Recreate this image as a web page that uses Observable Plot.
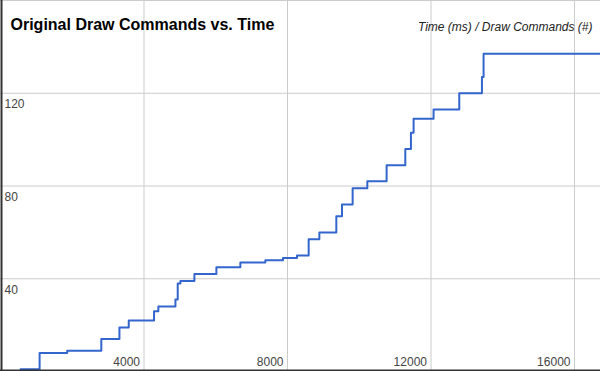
<!DOCTYPE html>
<html>
<head>
<meta charset="utf-8">
<script src="https://cdn.jsdelivr.net/npm/d3@7"></script>
<script src="https://cdn.jsdelivr.net/npm/@observablehq/plot@0.6"></script>
<style>
  html, body { margin: 0; padding: 0; background: #fff; }
  svg { display: block; }
</style>
</head>
<body>
<div id="chart"></div>
<script>
const titleText = "Original Draw Commands vs. Time";
const subtitleText = "Time (ms) / Draw Commands (#)";

const timesMs = [350, 560, 1090, 1860, 2810, 3315, 3575, 4280, 4400, 4876, 4940, 5015, 5405, 6018, 6686, 7383, 7875, 8265, 8590, 8888, 9361, 9519, 9816, 10225, 10763, 11284, 11441, 11515, 12072, 12788, 13420, 13466, 16725];
const drawCommands = [0, 1, 8, 9, 14, 19, 22, 26, 28, 31, 38, 39, 42, 45, 47, 48, 49, 50, 57, 60, 67, 72, 79, 82, 89, 96, 103, 109, 113, 120, 127, 137, 137];

const xTicks = [4000, 8000, 12000, 16000];
const yTicks = [40, 80, 120];
const yGrid = [40, 80, 120, 160];

const data = timesMs.map((t, i) => ({t, n: drawCommands[i]}));

const font = "'Liberation Sans', Arial, sans-serif";

const chart = Plot.plot({
  width: 600,
  height: 371,
  margin: 0,
  style: {fontFamily: font, fontSize: "12px", color: "#444", background: "#fff"},
  x: {domain: [0, 16725]},
  y: {domain: [0, 160]},
  marks: [
    Plot.gridX(xTicks, {stroke: "#ccc", strokeOpacity: 1}),
    Plot.gridY(yGrid, {stroke: "#ccc", strokeOpacity: 1}),
    Plot.axisX({ticks: xTicks, anchor: "bottom", tickSize: 0, tickPadding: 0, textAnchor: "end", dx: -4, dy: -14, fill: "#444", tickFormat: d => String(d), label: null, fontSize: 12}),
    Plot.axisY({ticks: yTicks, anchor: "left", tickSize: 0, tickPadding: 0, textAnchor: "start", dx: 4, dy: 11, fill: "#444", tickFormat: d => String(d), label: null, fontSize: 12}),
    Plot.line(data, {x: "t", y: "n", curve: "step-after", stroke: "#3366cc", strokeWidth: 2}),
    Plot.ruleX([0], {stroke: "#333", strokeWidth: 2, dx: 1}),
    Plot.ruleY([0], {stroke: "#333", strokeWidth: 2, dy: -1}),
    Plot.text([titleText], {frameAnchor: "top-left", textAnchor: "start", dx: 10, dy: 18, fontSize: 16, fontWeight: "bold", fill: "#000", fontFamily: font}),
    Plot.text([subtitleText], {frameAnchor: "top-right", textAnchor: "end", dx: -8, dy: 22, fontSize: 12, fontStyle: "italic", fill: "#222", fontFamily: font})
  ]
});

document.getElementById("chart").appendChild(chart);
</script>
</body>
</html>
